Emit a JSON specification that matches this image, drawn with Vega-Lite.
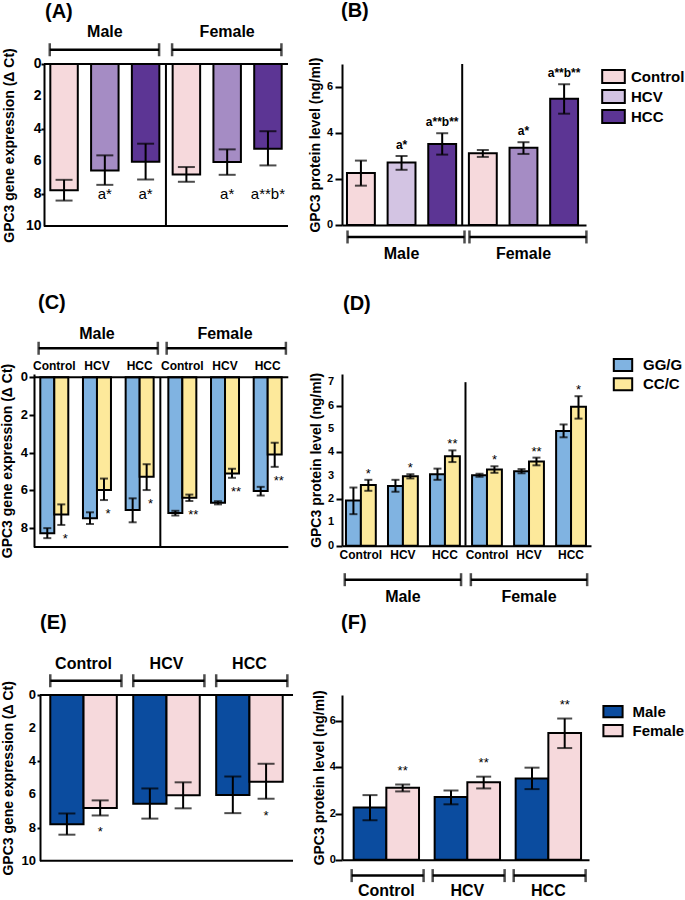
{
  "$schema": "https://vega.github.io/schema/vega-lite/v6.json",
  "padding": 0,
  "background": "white",
  "datasets": {
    "expr": [
      {"key": "M-Control", "sex": "Male", "group": "Control", "value": 7.8, "lo": 7.15, "hi": 8.43, "annA": "", "annE": ""},
      {"key": "M-HCV", "sex": "Male", "group": "HCV", "value": 6.57, "lo": 5.64, "hi": 7.46, "annA": "a*", "annE": ""},
      {"key": "M-HCC", "sex": "Male", "group": "HCC", "value": 6.03, "lo": 4.92, "hi": 7.13, "annA": "a*", "annE": ""},
      {"key": "F-Control", "sex": "Female", "group": "Control", "value": 6.82, "lo": 6.36, "hi": 7.27, "annA": "", "annE": "*"},
      {"key": "F-HCV", "sex": "Female", "group": "HCV", "value": 6.05, "lo": 5.27, "hi": 6.84, "annA": "a*", "annE": ""},
      {"key": "F-HCC", "sex": "Female", "group": "HCC", "value": 5.23, "lo": 4.15, "hi": 6.26, "annA": "a**b*", "annE": "*"}
    ],
    "protein": [
      {"key": "M-Control", "sex": "Male", "group": "Control", "value": 2.26, "lo": 1.71, "hi": 2.8, "annB": "", "annF": ""},
      {"key": "M-HCV", "sex": "Male", "group": "HCV", "value": 2.72, "lo": 2.4, "hi": 3.0, "annB": "a*", "annF": ""},
      {"key": "M-HCC", "sex": "Male", "group": "HCC", "value": 3.52, "lo": 3.06, "hi": 3.99, "annB": "a**b**", "annF": ""},
      {"key": "F-Control", "sex": "Female", "group": "Control", "value": 3.12, "lo": 2.96, "hi": 3.26, "annB": "", "annF": "**"},
      {"key": "F-HCV", "sex": "Female", "group": "HCV", "value": 3.36, "lo": 3.09, "hi": 3.6, "annB": "a*", "annF": "**"},
      {"key": "F-HCC", "sex": "Female", "group": "HCC", "value": 5.49, "lo": 4.84, "hi": 6.12, "annB": "a**b**", "annF": "**"}
    ],
    "genoExpr": [
      {"key": "M-Control", "geno": "GG/G", "value": 8.27, "lo": 8.0, "hi": 8.53, "ann": ""},
      {"key": "M-Control", "geno": "CC/C", "value": 7.27, "lo": 6.74, "hi": 7.83, "ann": "*"},
      {"key": "M-HCV", "geno": "GG/G", "value": 7.48, "lo": 7.16, "hi": 7.78, "ann": ""},
      {"key": "M-HCV", "geno": "CC/C", "value": 5.98, "lo": 5.37, "hi": 6.51, "ann": "*"},
      {"key": "M-HCC", "geno": "GG/G", "value": 7.04, "lo": 6.42, "hi": 7.69, "ann": ""},
      {"key": "M-HCC", "geno": "CC/C", "value": 5.28, "lo": 4.61, "hi": 5.98, "ann": "*"},
      {"key": "F-Control", "geno": "GG/G", "value": 7.2, "lo": 7.08, "hi": 7.33, "ann": ""},
      {"key": "F-Control", "geno": "CC/C", "value": 6.39, "lo": 6.22, "hi": 6.56, "ann": "**"},
      {"key": "F-HCV", "geno": "GG/G", "value": 6.65, "lo": 6.57, "hi": 6.74, "ann": ""},
      {"key": "F-HCV", "geno": "CC/C", "value": 5.1, "lo": 4.85, "hi": 5.33, "ann": "**"},
      {"key": "F-HCC", "geno": "GG/G", "value": 6.03, "lo": 5.81, "hi": 6.27, "ann": ""},
      {"key": "F-HCC", "geno": "CC/C", "value": 4.1, "lo": 3.47, "hi": 4.75, "ann": "**"}
    ],
    "genoProt": [
      {"key": "M-Control", "geno": "GG/G", "value": 1.93, "lo": 1.35, "hi": 2.49, "ann": ""},
      {"key": "M-Control", "geno": "CC/C", "value": 2.6, "lo": 2.35, "hi": 2.82, "ann": "*"},
      {"key": "M-HCV", "geno": "GG/G", "value": 2.56, "lo": 2.31, "hi": 2.82, "ann": ""},
      {"key": "M-HCV", "geno": "CC/C", "value": 2.97, "lo": 2.88, "hi": 3.06, "ann": "*"},
      {"key": "M-HCC", "geno": "GG/G", "value": 3.06, "lo": 2.82, "hi": 3.3, "ann": ""},
      {"key": "M-HCC", "geno": "CC/C", "value": 3.83, "lo": 3.58, "hi": 4.08, "ann": "**"},
      {"key": "F-Control", "geno": "GG/G", "value": 3.02, "lo": 2.95, "hi": 3.08, "ann": ""},
      {"key": "F-Control", "geno": "CC/C", "value": 3.26, "lo": 3.12, "hi": 3.4, "ann": "*"},
      {"key": "F-HCV", "geno": "GG/G", "value": 3.19, "lo": 3.1, "hi": 3.28, "ann": ""},
      {"key": "F-HCV", "geno": "CC/C", "value": 3.6, "lo": 3.44, "hi": 3.77, "ann": "**"},
      {"key": "F-HCC", "geno": "GG/G", "value": 4.91, "lo": 4.64, "hi": 5.19, "ann": ""},
      {"key": "F-HCC", "geno": "CC/C", "value": 5.95, "lo": 5.44, "hi": 6.4, "ann": "*"}
    ],
    "sexBrackets": [
      {"label": "Male", "start": "M-Control", "mid": "M-HCV", "end": "M-HCC"},
      {"label": "Female", "start": "F-Control", "mid": "F-HCV", "end": "F-HCC"}
    ],
    "groupBrackets": [
      {"group": "Control"}, {"group": "HCV"}, {"group": "HCC"}
    ],
    "ticksExpr": [{"v": 0}, {"v": 2}, {"v": 4}, {"v": 6}, {"v": 8}, {"v": 10}],
    "ticksGenoExpr": [{"v": 0}, {"v": 2}, {"v": 4}, {"v": 6}, {"v": 8}],
    "ticksProt": [{"v": 0}, {"v": 2}, {"v": 4}, {"v": 6}],
    "ticksGenoProt": [{"v": 0}, {"v": 1}, {"v": 2}, {"v": 3}, {"v": 4}, {"v": 5}, {"v": 6}, {"v": 7}],
    "one": [{}]
  },
  "config": {
    "font": "Liberation Sans",
    "view": {"stroke": null},
    "axis": {
      "domainColor": "#000", "domainWidth": 2, "tickColor": "#000", "tickWidth": 2, "tickSize": 4,
      "labelColor": "#000", "labelFont": "Liberation Sans", "labelFontSize": 13, "labelFontWeight": "bold", "labelPadding": 1,
      "titleColor": "#000", "titleFont": "Liberation Sans", "titleFontSize": 14, "titleFontWeight": "bold", "grid": false
    },
    "title": {"fontSize": 20, "fontWeight": "bold", "anchor": "start", "color": "#000", "font": "Liberation Sans", "frame": "group"},
    "text": {"color": "#000"},
    "rule": {"color": "#000"},
    "tick": {"color": "#000"}
  },
  "columns": 2,
  "bounds": "flush",
  "spacing": {"row": 148, "column": 49},
  "resolve": {"scale": {"fill": "independent", "xOffset": "independent", "x": "independent", "y": "independent"}},
  "concat": [
    {
      "title": {"text": "(A)", "offset": 2, "dx": 6, "frame": "group"},
      "width": 249, "height": 162,
      "layer": [
        {"data": {"name": "expr"}, "mark": {"type": "bar", "stroke": "#000", "strokeWidth": 2},
         "encoding": {
           "x": {"field": "key", "type": "nominal", "scale": {"domain": ["M-Control", "M-HCV", "M-HCC", "F-Control", "F-HCV", "F-HCC"], "paddingInner": 0.326, "paddingOuter": 0.216, "align": 0.642}, "axis": null},
           "y": {"field": "value", "type": "quantitative", "scale": {"domain": [0, 10], "reverse": true, "nice": false}, "axis": {"title": "GPC3 gene expression (Δ Ct)", "values": [0, 2, 4, 6, 8, 10], "labels": false, "tickSize": 3, "titlePadding": 24, "offset": -5}},
           "fill": {"field": "group", "type": "nominal", "scale": {"domain": ["Control", "HCV", "HCC"], "range": ["#f6d9dc", "#a58cc4", "#5c3594"]}, "legend": null}
         }},
        {"data": {"name": "ticksExpr"}, "mark": {"type": "text", "align": "right", "baseline": "middle", "fontSize": 14, "fontWeight": "bold"}, "encoding": {"x": {"datum": "M-Control", "type": "nominal", "bandPosition": -0.32}, "y": {"field": "v", "type": "quantitative"}, "text": {"field": "v", "type": "quantitative", "format": "d"}}},
        {"data": {"name": "expr"}, "mark": {"type": "rule", "strokeWidth": 2}, "encoding": {"x": {"field": "key", "type": "nominal"}, "y": {"field": "lo", "type": "quantitative"}, "y2": {"field": "hi"}}},
        {"data": {"name": "expr"}, "mark": {"type": "tick", "orient": "horizontal", "size": 17, "thickness": 2}, "encoding": {"x": {"field": "key", "type": "nominal"}, "y": {"field": "lo", "type": "quantitative"}}},
        {"data": {"name": "expr"}, "mark": {"type": "tick", "orient": "horizontal", "size": 17, "thickness": 2}, "encoding": {"x": {"field": "key", "type": "nominal"}, "y": {"field": "hi", "type": "quantitative"}}},
        {"data": {"name": "expr"}, "transform": [{"filter": "datum.annA != ''"}], "mark": {"type": "text", "fontSize": 15, "baseline": "middle"}, "encoding": {"x": {"field": "key", "type": "nominal"}, "y": {"datum": 8.05}, "text": {"field": "annA"}}},
        {"data": {"name": "one"}, "mark": {"type": "rule", "strokeWidth": 2}, "encoding": {"x": {"datum": "M-Control", "type": "nominal", "bandPosition": -0.229}, "x2": {"datum": "F-HCC", "bandPosition": 1.229}, "y": {"datum": 0}}},
        {"data": {"name": "one"}, "mark": {"type": "rule", "strokeWidth": 2}, "encoding": {"x": {"datum": "M-Control", "type": "nominal", "bandPosition": -0.229}, "x2": {"datum": "F-HCC", "bandPosition": 1.229}, "y": {"datum": 10}}},
        {"data": {"name": "one"}, "mark": {"type": "rule", "strokeWidth": 2}, "encoding": {"x": {"datum": "F-Control", "type": "nominal", "bandPosition": -0.244}, "y": {"datum": 0}, "y2": {"datum": 10}}},
        {"data": {"name": "sexBrackets"}, "mark": {"type": "rule", "strokeWidth": 2.5}, "encoding": {"x": {"field": "start", "type": "nominal", "bandPosition": -0.02}, "x2": {"field": "end", "bandPosition": 0.99}, "y": {"datum": -0.88}}},
        {"data": {"name": "sexBrackets"}, "mark": {"type": "tick", "orient": "vertical", "size": 13, "thickness": 2.5}, "encoding": {"x": {"field": "start", "type": "nominal", "bandPosition": -0.02}, "y": {"datum": -0.88}}},
        {"data": {"name": "sexBrackets"}, "mark": {"type": "tick", "orient": "vertical", "size": 13, "thickness": 2.5}, "encoding": {"x": {"field": "end", "type": "nominal", "bandPosition": 0.99}, "y": {"datum": -0.88}}},
        {"data": {"name": "sexBrackets"}, "mark": {"type": "text", "fontSize": 16, "fontWeight": "bold", "baseline": "middle"}, "encoding": {"x": {"field": "mid", "type": "nominal"}, "y": {"datum": -1.98}, "text": {"field": "label"}}}
      ]
    },
    {
      "title": {"text": "(B)", "offset": 36, "dx": -1, "frame": "group"},
      "width": 244, "height": 161,
      "layer": [
        {"data": {"name": "protein"}, "mark": {"type": "bar", "stroke": "#000", "strokeWidth": 2},
         "encoding": {
           "x": {"field": "key", "type": "nominal", "scale": {"domain": ["M-Control", "M-HCV", "M-HCC", "F-Control", "F-HCV", "F-HCC"], "paddingInner": 0.314, "paddingOuter": 0.159, "align": 0.385}, "axis": {"orient": "bottom", "labels": false, "ticks": false, "title": null}},
           "y": {"field": "value", "type": "quantitative", "scale": {"domain": [0, 7], "nice": false}, "axis": {"title": "GPC3 protein level (ng/ml)", "values": [0, 1, 2, 3, 4, 5, 6, 7], "labels": false, "tickSize": 7, "titlePadding": 12}},
           "fill": {"field": "group", "type": "nominal", "condition": {"test": "datum.key === 'F-HCV'", "value": "#a58cc4"}, "scale": {"domain": ["Control", "HCV", "HCC"], "range": ["#f6d9dc", "#d3c4e3", "#5c3594"]},
             "legend": {"title": null, "orient": "none", "legendX": 262, "legendY": 3, "padding": 0, "symbolType": "M-1.33,-0.76H1.33V0.76H-1.33Z", "symbolSize": 289, "symbolStrokeColor": "#000", "symbolStrokeWidth": 2, "labelFontSize": 15, "labelFontWeight": "bold", "labelColor": "#000", "rowPadding": -3.3, "labelOffset": 8}}
         }},
        {"data": {"name": "ticksProt"}, "mark": {"type": "text", "align": "right", "baseline": "middle", "fontSize": 11, "fontWeight": "bold"}, "encoding": {"x": {"datum": "M-Control", "type": "nominal", "bandPosition": -0.5}, "y": {"field": "v", "type": "quantitative"}, "text": {"field": "v", "type": "quantitative", "format": "d"}}},
        {"data": {"name": "protein"}, "mark": {"type": "rule", "strokeWidth": 2}, "encoding": {"x": {"field": "key", "type": "nominal"}, "y": {"field": "lo", "type": "quantitative"}, "y2": {"field": "hi"}}},
        {"data": {"name": "protein"}, "mark": {"type": "tick", "orient": "horizontal", "size": 12, "thickness": 2}, "encoding": {"x": {"field": "key", "type": "nominal"}, "y": {"field": "lo", "type": "quantitative"}}},
        {"data": {"name": "protein"}, "mark": {"type": "tick", "orient": "horizontal", "size": 12, "thickness": 2}, "encoding": {"x": {"field": "key", "type": "nominal"}, "y": {"field": "hi", "type": "quantitative"}}},
        {"data": {"name": "protein"}, "transform": [{"filter": "datum.annB != ''"}], "mark": {"type": "text", "fontSize": 12, "fontWeight": "bold", "baseline": "alphabetic", "dy": -7}, "encoding": {"x": {"field": "key", "type": "nominal"}, "y": {"field": "hi", "type": "quantitative"}, "text": {"field": "annB"}}},
        {"data": {"name": "one"}, "mark": {"type": "rule", "strokeWidth": 2}, "encoding": {"x": {"datum": "F-Control", "type": "nominal", "bandPosition": -0.24}, "y": {"datum": 0}, "y2": {"datum": 7}}},
        {"data": {"name": "sexBrackets"}, "mark": {"type": "rule", "strokeWidth": 2.5}, "encoding": {"x": {"field": "start", "type": "nominal", "bandPosition": 0.02}, "x2": {"field": "end", "bandPosition": 1.3}, "y": {"datum": -0.52}}},
        {"data": {"name": "sexBrackets"}, "mark": {"type": "tick", "orient": "vertical", "size": 13, "thickness": 2.5}, "encoding": {"x": {"field": "start", "type": "nominal", "bandPosition": 0.02}, "y": {"datum": -0.52}}},
        {"data": {"name": "sexBrackets"}, "mark": {"type": "tick", "orient": "vertical", "size": 13, "thickness": 2.5}, "encoding": {"x": {"field": "end", "type": "nominal", "bandPosition": 1.3}, "y": {"datum": -0.52}}},
        {"data": {"name": "sexBrackets"}, "mark": {"type": "text", "fontSize": 16, "fontWeight": "bold", "baseline": "middle"}, "encoding": {"x": {"field": "mid", "type": "nominal"}, "y": {"datum": -1.26}, "text": {"field": "label"}}}
      ]
    },
    {
      "title": {"text": "(C)", "offset": 13, "dx": -1, "frame": "group"},
      "width": 249, "height": 173,
      "layer": [
        {"data": {"name": "genoExpr"}, "mark": {"type": "bar", "stroke": "#000", "strokeWidth": 2},
         "encoding": {
           "x": {"field": "key", "type": "nominal", "scale": {"domain": ["M-Control", "M-HCV", "M-HCC", "F-Control", "F-HCV", "F-HCC"], "paddingInner": 0.344, "paddingOuter": 0.089, "align": 0.17}, "axis": {"orient": "top", "ticks": false, "domain": false, "title": null, "labelAngle": 0, "labelFontSize": 12, "labelPadding": 2, "labelExpr": "split(datum.label, '-')[1]"}},
           "xOffset": {"field": "geno", "type": "nominal", "scale": {"domain": ["GG/G", "CC/C"]}},
           "y": {"field": "value", "type": "quantitative", "scale": {"domain": [-0.175, 9], "reverse": true, "nice": false, "zero": false}, "axis": {"title": "GPC3 gene expression (Δ Ct)", "values": [0, 1, 2, 3, 4, 5, 6, 7, 8, 9], "labels": false, "tickSize": 5, "titlePadding": 14, "offset": 5}},
           "y2": {"datum": 0},
           "fill": {"field": "geno", "type": "nominal", "scale": {"domain": ["GG/G", "CC/C"], "range": ["#80b3e1", "#fde99b"]}, "legend": null}
         }},
        {"data": {"name": "ticksGenoExpr"}, "mark": {"type": "text", "align": "right", "baseline": "middle", "fontSize": 13, "fontWeight": "bold"}, "encoding": {"x": {"datum": "M-Control", "type": "nominal", "bandPosition": -0.44}, "y": {"field": "v", "type": "quantitative"}, "text": {"field": "v", "type": "quantitative", "format": "d"}}},
        {"data": {"name": "genoExpr"}, "mark": {"type": "rule", "strokeWidth": 2}, "encoding": {"x": {"field": "key", "type": "nominal"}, "xOffset": {"field": "geno", "type": "nominal"}, "y": {"field": "lo", "type": "quantitative"}, "y2": {"field": "hi"}}},
        {"data": {"name": "genoExpr"}, "mark": {"type": "tick", "orient": "horizontal", "size": 8, "thickness": 2}, "encoding": {"x": {"field": "key", "type": "nominal"}, "xOffset": {"field": "geno", "type": "nominal"}, "y": {"field": "lo", "type": "quantitative"}}},
        {"data": {"name": "genoExpr"}, "mark": {"type": "tick", "orient": "horizontal", "size": 8, "thickness": 2}, "encoding": {"x": {"field": "key", "type": "nominal"}, "xOffset": {"field": "geno", "type": "nominal"}, "y": {"field": "hi", "type": "quantitative"}}},
        {"data": {"name": "genoExpr"}, "transform": [{"filter": "datum.ann != ''"}], "mark": {"type": "text", "fontSize": 13, "baseline": "alphabetic", "dy": 18, "dx": 4}, "encoding": {"x": {"field": "key", "type": "nominal"}, "xOffset": {"field": "geno", "type": "nominal"}, "y": {"field": "hi", "type": "quantitative"}, "text": {"field": "ann"}}},
        {"data": {"name": "one"}, "mark": {"type": "rule", "strokeWidth": 2}, "encoding": {"x": {"datum": "M-Control", "type": "nominal", "bandPosition": -0.225}, "x2": {"datum": "F-HCC", "bandPosition": 1.236}, "y": {"datum": 0}}},
        {"data": {"name": "one"}, "mark": {"type": "rule", "strokeWidth": 2}, "encoding": {"x": {"datum": "M-Control", "type": "nominal", "bandPosition": -0.225}, "x2": {"datum": "F-HCC", "bandPosition": 1.236}, "y": {"datum": 9}}},
        {"data": {"name": "one"}, "mark": {"type": "rule", "strokeWidth": 2}, "encoding": {"x": {"datum": "F-Control", "type": "nominal", "bandPosition": -0.286}, "y": {"datum": 0}, "y2": {"datum": 9}}},
        {"data": {"name": "sexBrackets"}, "mark": {"type": "rule", "strokeWidth": 2.5}, "encoding": {"x": {"field": "start", "type": "nominal", "bandPosition": -0.06}, "x2": {"field": "end", "bandPosition": 1.15}, "y": {"datum": -1.54}}},
        {"data": {"name": "sexBrackets"}, "mark": {"type": "tick", "orient": "vertical", "size": 13, "thickness": 2.5}, "encoding": {"x": {"field": "start", "type": "nominal", "bandPosition": -0.06}, "y": {"datum": -1.54}}},
        {"data": {"name": "sexBrackets"}, "mark": {"type": "tick", "orient": "vertical", "size": 13, "thickness": 2.5}, "encoding": {"x": {"field": "end", "type": "nominal", "bandPosition": 1.15}, "y": {"datum": -1.54}}},
        {"data": {"name": "sexBrackets"}, "mark": {"type": "text", "fontSize": 16, "fontWeight": "bold", "baseline": "middle"}, "encoding": {"x": {"field": "mid", "type": "nominal"}, "y": {"datum": -2.3}, "text": {"field": "label"}}}
      ]
    },
    {
      "title": {"text": "(D)", "offset": 42, "dx": 1, "frame": "group"},
      "width": 249, "height": 171.7,
      "layer": [
        {"data": {"name": "genoProt"}, "mark": {"type": "bar", "stroke": "#000", "strokeWidth": 2},
         "encoding": {
           "x": {"field": "key", "type": "nominal", "scale": {"domain": ["M-Control", "M-HCV", "M-HCC", "F-Control", "F-HCV", "F-HCC"], "paddingInner": 0.29, "paddingOuter": 0.107, "align": 0.44}, "axis": {"orient": "bottom", "ticks": false, "title": null, "labelAngle": 0, "labelFontSize": 12, "labelPadding": 4, "labelExpr": "split(datum.label, '-')[1]"}},
           "xOffset": {"field": "geno", "type": "nominal", "scale": {"domain": ["GG/G", "CC/C"]}},
           "y": {"field": "value", "type": "quantitative", "scale": {"domain": [0, 7.35], "nice": false}, "axis": {"title": "GPC3 protein level (ng/ml)", "values": [0, 0.5, 1, 1.5, 2, 2.5, 3, 3.5, 4, 4.5, 5, 5.5, 6, 6.5, 7], "labels": false, "tickSize": 6, "titlePadding": 12}},
           "fill": {"field": "geno", "type": "nominal", "scale": {"domain": ["GG/G", "CC/C"], "range": ["#80b3e1", "#fde99b"]},
             "legend": {"title": null, "orient": "none", "legendX": 272, "legendY": -18, "padding": 0, "symbolType": "M-1.15,-0.75H1.15V0.75H-1.15Z", "symbolSize": 256, "symbolStrokeColor": "#000", "symbolStrokeWidth": 2, "labelFontSize": 15, "labelFontWeight": "bold", "labelColor": "#000", "rowPadding": -0.8, "labelOffset": 11}}
         }},
        {"data": {"name": "ticksGenoProt"}, "mark": {"type": "text", "align": "right", "baseline": "middle", "fontSize": 11, "fontWeight": "bold"}, "encoding": {"x": {"datum": "M-Control", "type": "nominal", "bandPosition": -0.4}, "y": {"field": "v", "type": "quantitative"}, "text": {"field": "v", "type": "quantitative", "format": "d"}}},
        {"data": {"name": "genoProt"}, "mark": {"type": "rule", "strokeWidth": 2}, "encoding": {"x": {"field": "key", "type": "nominal"}, "xOffset": {"field": "geno", "type": "nominal"}, "y": {"field": "lo", "type": "quantitative"}, "y2": {"field": "hi"}}},
        {"data": {"name": "genoProt"}, "mark": {"type": "tick", "orient": "horizontal", "size": 8, "thickness": 2}, "encoding": {"x": {"field": "key", "type": "nominal"}, "xOffset": {"field": "geno", "type": "nominal"}, "y": {"field": "lo", "type": "quantitative"}}},
        {"data": {"name": "genoProt"}, "mark": {"type": "tick", "orient": "horizontal", "size": 8, "thickness": 2}, "encoding": {"x": {"field": "key", "type": "nominal"}, "xOffset": {"field": "geno", "type": "nominal"}, "y": {"field": "hi", "type": "quantitative"}}},
        {"data": {"name": "genoProt"}, "transform": [{"filter": "datum.ann != ''"}], "mark": {"type": "text", "fontSize": 13, "baseline": "alphabetic", "dy": -2}, "encoding": {"x": {"field": "key", "type": "nominal"}, "xOffset": {"field": "geno", "type": "nominal"}, "y": {"field": "hi", "type": "quantitative"}, "text": {"field": "ann"}}},
        {"data": {"name": "one"}, "mark": {"type": "rule", "strokeWidth": 2}, "encoding": {"x": {"datum": "F-Control", "type": "nominal", "bandPosition": -0.22}, "y": {"datum": 0}, "y2": {"datum": 7}}},
        {"data": {"name": "sexBrackets"}, "mark": {"type": "rule", "strokeWidth": 2.5}, "encoding": {"x": {"field": "start", "type": "nominal", "bandPosition": -0.04}, "x2": {"field": "end", "bandPosition": 1.04}, "y": {"datum": -1.455}}},
        {"data": {"name": "sexBrackets"}, "mark": {"type": "tick", "orient": "vertical", "size": 13, "thickness": 2.5}, "encoding": {"x": {"field": "start", "type": "nominal", "bandPosition": -0.04}, "y": {"datum": -1.455}}},
        {"data": {"name": "sexBrackets"}, "mark": {"type": "tick", "orient": "vertical", "size": 13, "thickness": 2.5}, "encoding": {"x": {"field": "end", "type": "nominal", "bandPosition": 1.04}, "y": {"datum": -1.455}}},
        {"data": {"name": "sexBrackets"}, "mark": {"type": "text", "fontSize": 16, "fontWeight": "bold", "baseline": "middle"}, "encoding": {"x": {"field": "mid", "type": "nominal"}, "y": {"datum": -2.2}, "text": {"field": "label"}}}
      ]
    },
    {
      "title": {"text": "(E)", "offset": 23.5, "dx": 1, "frame": "group"},
      "width": 254, "height": 165.7,
      "layer": [
        {"data": {"name": "expr"}, "mark": {"type": "bar", "stroke": "#000", "strokeWidth": 2},
         "encoding": {
           "x": {"field": "group", "type": "nominal", "scale": {"domain": ["Control", "HCV", "HCC"], "paddingInner": 0.198, "paddingOuter": 0.13, "align": 0.523}, "axis": null},
           "xOffset": {"field": "sex", "type": "nominal", "scale": {"domain": ["Male", "Female"]}},
           "y": {"field": "value", "type": "quantitative", "scale": {"domain": [0, 10], "reverse": true, "nice": false}, "axis": {"title": "GPC3 gene expression (Δ Ct)", "values": [0, 2, 4, 6, 8, 10], "labels": false, "tickSize": 3, "titlePadding": 21, "offset": -1}},
           "fill": {"field": "sex", "type": "nominal", "scale": {"domain": ["Male", "Female"], "range": ["#0b4c9f", "#f6d9dc"]}, "legend": null}
         }},
        {"data": {"name": "ticksExpr"}, "mark": {"type": "text", "align": "right", "baseline": "middle", "fontSize": 13, "fontWeight": "bold"}, "encoding": {"x": {"datum": "Control", "type": "nominal", "bandPosition": -0.215}, "y": {"field": "v", "type": "quantitative"}, "text": {"field": "v", "type": "quantitative", "format": "d"}}},
        {"data": {"name": "expr"}, "mark": {"type": "rule", "strokeWidth": 2}, "encoding": {"x": {"field": "group", "type": "nominal"}, "xOffset": {"field": "sex", "type": "nominal"}, "y": {"field": "lo", "type": "quantitative"}, "y2": {"field": "hi"}}},
        {"data": {"name": "expr"}, "mark": {"type": "tick", "orient": "horizontal", "size": 17, "thickness": 2}, "encoding": {"x": {"field": "group", "type": "nominal"}, "xOffset": {"field": "sex", "type": "nominal"}, "y": {"field": "lo", "type": "quantitative"}}},
        {"data": {"name": "expr"}, "mark": {"type": "tick", "orient": "horizontal", "size": 17, "thickness": 2}, "encoding": {"x": {"field": "group", "type": "nominal"}, "xOffset": {"field": "sex", "type": "nominal"}, "y": {"field": "hi", "type": "quantitative"}}},
        {"data": {"name": "expr"}, "transform": [{"filter": "datum.annE != ''"}], "mark": {"type": "text", "fontSize": 13, "baseline": "alphabetic", "dy": 21}, "encoding": {"x": {"field": "group", "type": "nominal"}, "xOffset": {"field": "sex", "type": "nominal"}, "y": {"field": "hi", "type": "quantitative"}, "text": {"field": "annE"}}},
        {"data": {"name": "one"}, "mark": {"type": "rule", "strokeWidth": 2}, "encoding": {"x": {"datum": "Control", "type": "nominal", "bandPosition": -0.155}, "x2": {"datum": "HCC", "bandPosition": 1.155}, "y": {"datum": 0}}},
        {"data": {"name": "one"}, "mark": {"type": "rule", "strokeWidth": 2}, "encoding": {"x": {"datum": "Control", "type": "nominal", "bandPosition": -0.155}, "x2": {"datum": "HCC", "bandPosition": 1.155}, "y": {"datum": 10}}},
        {"data": {"name": "groupBrackets"}, "mark": {"type": "rule", "strokeWidth": 2.5}, "encoding": {"x": {"field": "group", "type": "nominal", "bandPosition": 0}, "x2": {"field": "group", "bandPosition": 1.07}, "y": {"datum": -0.86}}},
        {"data": {"name": "groupBrackets"}, "mark": {"type": "tick", "orient": "vertical", "size": 13, "thickness": 2.5}, "encoding": {"x": {"field": "group", "type": "nominal", "bandPosition": 0}, "y": {"datum": -0.86}}},
        {"data": {"name": "groupBrackets"}, "mark": {"type": "tick", "orient": "vertical", "size": 13, "thickness": 2.5}, "encoding": {"x": {"field": "group", "type": "nominal", "bandPosition": 1.07}, "y": {"datum": -0.86}}},
        {"data": {"name": "groupBrackets"}, "mark": {"type": "text", "fontSize": 16, "fontWeight": "bold", "baseline": "middle"}, "encoding": {"x": {"field": "group", "type": "nominal"}, "y": {"datum": -1.85}, "text": {"field": "group"}}}
      ]
    },
    {
      "title": {"text": "(F)", "offset": 57.3, "dx": -1, "frame": "group"},
      "width": 247, "height": 164.7,
      "layer": [
        {"data": {"name": "protein"}, "mark": {"type": "bar", "stroke": "#000", "strokeWidth": 2},
         "encoding": {
           "x": {"field": "group", "type": "nominal", "scale": {"domain": ["Control", "HCV", "HCC"], "paddingInner": 0.193, "paddingOuter": 0.121, "align": 0.594}, "axis": {"orient": "bottom", "labels": false, "ticks": false, "title": null}},
           "xOffset": {"field": "sex", "type": "nominal", "scale": {"domain": ["Male", "Female"]}},
           "y": {"field": "value", "type": "quantitative", "scale": {"domain": [0, 7.14], "nice": false}, "axis": {"title": "GPC3 protein level (ng/ml)", "values": [0, 1, 2, 3, 4, 5, 6, 7], "labels": false, "tickSize": 7, "titlePadding": 8}},
           "fill": {"field": "sex", "type": "nominal", "scale": {"domain": ["Male", "Female"], "range": ["#0b4c9f", "#f6d9dc"]},
             "legend": {"title": null, "orient": "none", "legendX": 262, "legendY": 7.7, "padding": 0, "symbolType": "M-1.2,-0.7H1.2V0.7H-1.2Z", "symbolSize": 256, "symbolStrokeColor": "#000", "symbolStrokeWidth": 2, "labelFontSize": 15, "labelFontWeight": "bold", "labelColor": "#000", "rowPadding": -3.5, "labelOffset": 10.5}}
         }},
        {"data": {"name": "ticksProt"}, "mark": {"type": "text", "align": "right", "baseline": "middle", "fontSize": 11, "fontWeight": "bold"}, "encoding": {"x": {"datum": "Control", "type": "nominal", "bandPosition": -0.27}, "y": {"field": "v", "type": "quantitative"}, "text": {"field": "v", "type": "quantitative", "format": "d"}}},
        {"data": {"name": "protein"}, "mark": {"type": "rule", "strokeWidth": 2}, "encoding": {"x": {"field": "group", "type": "nominal"}, "xOffset": {"field": "sex", "type": "nominal"}, "y": {"field": "lo", "type": "quantitative"}, "y2": {"field": "hi"}}},
        {"data": {"name": "protein"}, "mark": {"type": "tick", "orient": "horizontal", "size": 15, "thickness": 2}, "encoding": {"x": {"field": "group", "type": "nominal"}, "xOffset": {"field": "sex", "type": "nominal"}, "y": {"field": "lo", "type": "quantitative"}}},
        {"data": {"name": "protein"}, "mark": {"type": "tick", "orient": "horizontal", "size": 15, "thickness": 2}, "encoding": {"x": {"field": "group", "type": "nominal"}, "xOffset": {"field": "sex", "type": "nominal"}, "y": {"field": "hi", "type": "quantitative"}}},
        {"data": {"name": "protein"}, "transform": [{"filter": "datum.annF != ''"}], "mark": {"type": "text", "fontSize": 13, "baseline": "alphabetic", "dy": -10}, "encoding": {"x": {"field": "group", "type": "nominal"}, "xOffset": {"field": "sex", "type": "nominal"}, "y": {"field": "hi", "type": "quantitative"}, "text": {"field": "annF"}}},
        {"data": {"name": "groupBrackets"}, "mark": {"type": "rule", "strokeWidth": 2.5}, "encoding": {"x": {"field": "group", "type": "nominal", "bandPosition": -0.03}, "x2": {"field": "group", "bandPosition": 1.07}, "y": {"datum": -0.69}}},
        {"data": {"name": "groupBrackets"}, "mark": {"type": "tick", "orient": "vertical", "size": 13, "thickness": 2.5}, "encoding": {"x": {"field": "group", "type": "nominal", "bandPosition": -0.03}, "y": {"datum": -0.69}}},
        {"data": {"name": "groupBrackets"}, "mark": {"type": "tick", "orient": "vertical", "size": 13, "thickness": 2.5}, "encoding": {"x": {"field": "group", "type": "nominal", "bandPosition": 1.07}, "y": {"datum": -0.69}}},
        {"data": {"name": "groupBrackets"}, "mark": {"type": "text", "fontSize": 16, "fontWeight": "bold", "baseline": "middle"}, "encoding": {"x": {"field": "group", "type": "nominal"}, "y": {"datum": -1.34}, "text": {"field": "group"}}}
      ]
    }
  ]
}
